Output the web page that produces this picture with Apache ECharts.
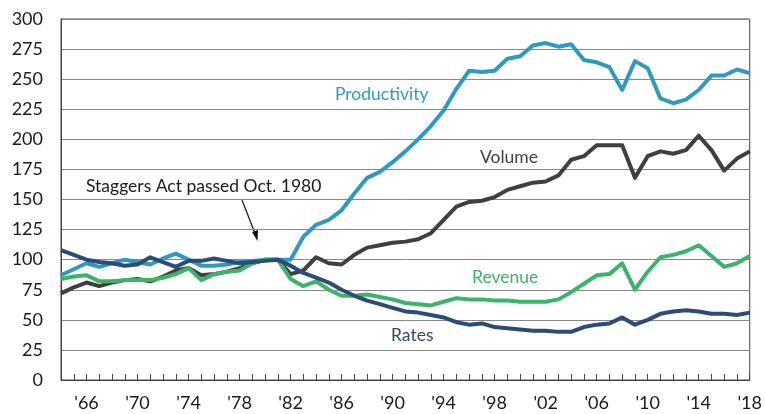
<!DOCTYPE html>
<html lang="en">
<head>
    <meta charset="UTF-8">
    <title>Rail productivity</title>
    <style>
        html, body { margin: 0; padding: 0; background: #fff; }
    </style>
</head>
<body>
    <div id="app" style="width: 765px;height:414px;"></div>
    <script src="https://cdn.jsdelivr.net/npm/echarts@6/dist/echarts.min.js"></script>
    <script>
        // years 1964..2018
        const years = [];
        for (let y = 1964; y <= 2018; y++) years.push(String(y));

        const productivity = [87, 92, 97, 94, 97, 100, 98, 96, 101, 105, 100, 95, 95, 96, 98, 99, 100, 100, 100, 119, 129, 133, 141, 155, 168, 173, 181, 190, 200, 211,
            224, 242, 257, 256, 257, 267, 269, 278, 280, 277, 279, 266, 264, 260, 241, 265, 259, 234, 230, 233, 241, 253, 253, 258, 255];
        const volume = [72, 77, 81, 78, 81, 83, 84, 82, 86, 91, 93, 87, 88, 90, 93, 97, 100, 100, 88, 91, 102, 97, 96, 104, 110, 112, 114, 115, 117, 122,
            133, 144, 148, 149, 152, 158, 161, 164, 165, 170, 183, 186, 195, 195, 195, 168, 186, 190, 188, 191, 203, 191, 174, 184, 190];
        const revenue = [84, 86, 87, 82, 82, 83, 83, 83, 85, 88, 93, 83, 88, 90, 91, 97, 100, 100, 84, 78, 82, 75, 70, 70, 71, 69, 67, 64, 63, 62,
            65, 68, 67, 67, 66, 66, 65, 65, 65, 67, 73, 80, 87, 88, 97, 75, 90, 102, 104, 107, 112, 103, 94, 97, 103];
        const rates = [108, 104, 100, 98, 97, 95, 96, 102, 98, 94, 99, 99, 101, 99, 97, 98, 99, 100, 95, 89, 85, 81, 75, 70, 66, 63, 60, 57, 56, 54,
            52, 48, 46, 47, 44, 43, 42, 41, 41, 40, 40, 44, 46, 47, 52, 46, 50, 55, 57, 58, 57, 55, 55, 54, 56];

        const yTicks = { min: 0, max: 300, interval: 25 };

        const font = 'Lato, "Open Sans", sans-serif';
        const lblFont = '17.5px ' + font;
        const cTeal = '#2f9abd', cGray = '#3f3f3f', cGreen = '#3db36a', cNavy = '#2b4b78';

        const myChart = echarts.init(document.getElementById('app'));

        function line(name, data, color, z) {
            return {
                name: name,
                type: 'line',
                data: data,
                symbol: 'none',
                z: z,
                lineStyle: { color: color, width: 4, join: 'round' }
            };
        }

        const options = {
            animation: false,
            grid: { left: 61, right: 14, top: 19, bottom: 34, show: true, borderColor: '#444', borderWidth: 1 },
            xAxis: {
                type: 'category',
                data: years,
                boundaryGap: false,
                axisLine: { lineStyle: { color: '#444', width: 1 } },
                axisTick: { show: true, inside: true, length: 6, interval: 0, lineStyle: { color: '#444' } },
                axisLabel: {
                    interval: function (i) { return (i - 2) % 4 === 0; },
                    formatter: function (v) { return "'" + v.slice(2); },
                    color: '#1a1a1a', fontSize: 18, fontFamily: font, margin: 14
                },
                splitLine: { show: false }
            },
            yAxis: {
                type: 'value',
                min: yTicks.min, max: yTicks.max, interval: yTicks.interval,
                axisLine: { show: true, lineStyle: { color: '#444', width: 1 } },
                axisTick: { show: false },
                axisLabel: { color: '#1a1a1a', fontSize: 18, fontFamily: font, margin: 18 },
                splitLine: { lineStyle: { color: '#888', width: 1 } }
            },
            series: [
                line('Volume', volume, cGray, 2),
                line('Productivity', productivity, cTeal, 3),
                line('Revenue', revenue, cGreen, 4),
                line('Rates', rates, cNavy, 5)
            ],
            graphic: [
                { type: 'text', left: 335, top: 85, style: { text: 'Productivity', fill: cTeal, font: lblFont } },
                { type: 'text', left: 480, top: 148, style: { text: 'Volume', fill: cGray, font: lblFont } },
                { type: 'text', left: 472, top: 268, style: { text: 'Revenue', fill: cGreen, font: lblFont } },
                { type: 'text', left: 391, top: 326, style: { text: 'Rates', fill: cNavy, font: lblFont } },
                { type: 'text', left: 86, top: 177, style: { text: 'Staggers Act passed Oct. 1980', fill: '#1a1a1a', font: lblFont } },
                { type: 'line', shape: { x1: 242, y1: 200, x2: 256, y2: 236 }, style: { stroke: '#111', lineWidth: 1.2 } },
                { type: 'polygon', shape: { points: [[257.5, 241], [252, 232], [258, 230]] }, style: { fill: '#111' } }
            ]
        };
        myChart.setOption(options);
    </script>
</body>
</html>
